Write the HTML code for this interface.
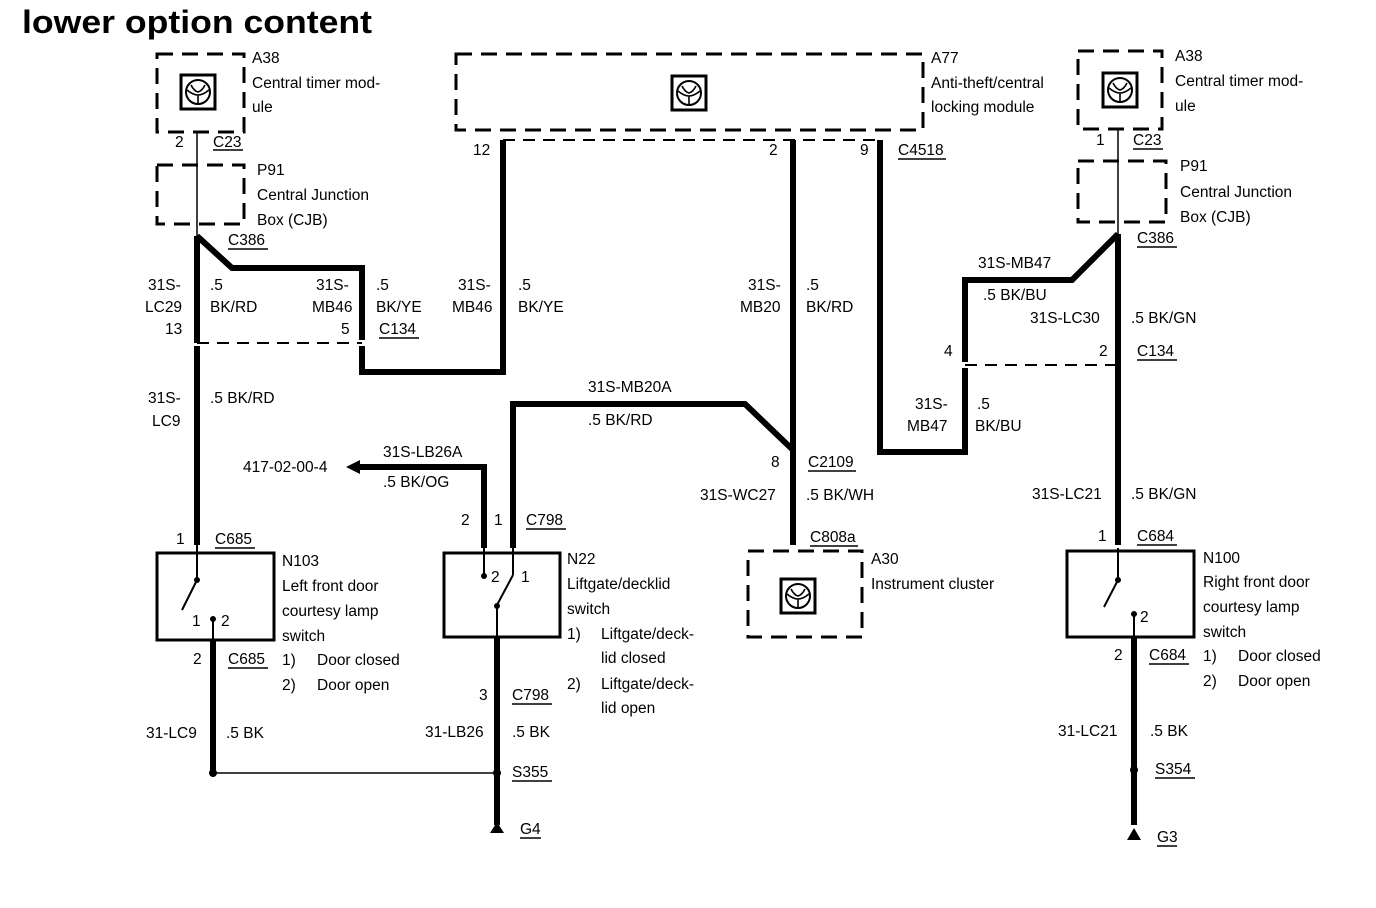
<!DOCTYPE html>
<html><head><meta charset="utf-8"><style>
html,body{margin:0;padding:0;background:#fff;width:1376px;height:908px;overflow:hidden}
svg{display:block}
text{font-family:"Liberation Sans",sans-serif;font-size:15.5px;fill:#000}
</style></head><body>
<svg width="1376" height="908" viewBox="0 0 1376 908" xmlns="http://www.w3.org/2000/svg">
<defs>
<g id="ic">
<rect x="-17" y="-17" width="34" height="34" fill="none" stroke="#000" stroke-width="3"/>
<circle cx="0" cy="0" r="12" fill="none" stroke="#000" stroke-width="2"/>
<path d="M-11,-2 Q-5,3 0,3 Q5,3 11,-2 M0,3 V12 M-7,-7 Q-4,-1 0,0 Q4,-1 7,-7" fill="none" stroke="#000" stroke-width="1.6"/>
</g>
</defs>
<text x="22" y="33" style="font-size:32px;font-weight:bold" textLength="350" lengthAdjust="spacingAndGlyphs">lower option content</text>

<g fill="none" stroke="#000" stroke-width="3" stroke-dasharray="16,9">
<rect x="157" y="54" width="87" height="78"/>
<rect x="157" y="165" width="87" height="59"/>
<rect x="456" y="54" width="467" height="76"/>
<rect x="1078" y="51" width="84" height="78"/>
<rect x="1078" y="161" width="88" height="61"/>
<rect x="748" y="551" width="114" height="86"/>
</g>
<g fill="none" stroke="#000" stroke-width="2" stroke-dasharray="12,8">
<line x1="197" y1="343" x2="362" y2="343"/>
<line x1="503" y1="140" x2="880" y2="140"/>
<line x1="965" y1="365" x2="1118" y2="365"/>
</g>
<use href="#ic" x="198" y="92"/>
<use href="#ic" x="689" y="93"/>
<use href="#ic" x="1120" y="90"/>
<use href="#ic" x="798" y="596"/>

<g fill="none" stroke="#000" stroke-width="1.5">
<line x1="197" y1="132" x2="197" y2="236"/>
<line x1="1118" y1="130" x2="1118" y2="234"/>
<line x1="213" y1="773" x2="497" y2="773"/>
</g>
<g fill="none" stroke="#000" stroke-width="6" stroke-linejoin="miter">
<polyline points="197,236 197,343"/>
<polyline points="197,236 232,268 362,268 362,340"/>
<polyline points="362,346 362,372 503,372 503,140"/>
<line x1="197" y1="346" x2="197" y2="545"/>
<line x1="793" y1="140" x2="793" y2="545"/>
<polyline points="880,140 880,452 965,452 965,368"/>
<polyline points="965,362 965,280 1072,280 1118,234"/>
<line x1="1118" y1="234" x2="1118" y2="545"/>
<polyline points="352,467 484,467 484,548"/>
<polyline points="793,450 745,404 513,404 513,548"/>
<line x1="213" y1="640" x2="213" y2="773"/>
<line x1="497" y1="637" x2="497" y2="825"/>
<line x1="1134" y1="637" x2="1134" y2="825"/>
</g>
<path d="M346,467 L360,460 L360,474Z" fill="#000"/>
<path d="M490,833 L504,833 L497,822Z M1127,840 L1141,840 L1134,828Z" fill="#000"/>
<circle cx="213" cy="773" r="4" fill="#000"/>
<circle cx="497" cy="773" r="4" fill="#000"/>
<circle cx="1134" cy="770" r="4" fill="#000"/>

<g fill="none" stroke="#000" stroke-width="3">
<rect x="157" y="553" width="117" height="87"/>
<rect x="444" y="553" width="116" height="84"/>
<rect x="1067" y="551" width="127" height="86"/>
</g>
<g stroke="#000" stroke-width="2" fill="#000">
<line x1="197" y1="545" x2="197" y2="580"/><line x1="197" y1="580" x2="182" y2="610"/>
<line x1="213" y1="620" x2="213" y2="640"/><circle cx="213" cy="619" r="2"/><circle cx="197" cy="580" r="2"/>
<line x1="484" y1="548" x2="484" y2="575"/><circle cx="484" cy="576" r="2"/>
<line x1="513" y1="548" x2="513" y2="575"/><line x1="513" y1="575" x2="497" y2="605"/><circle cx="497" cy="606" r="2"/>
<line x1="497" y1="606" x2="497" y2="637"/>
<line x1="1118" y1="548" x2="1118" y2="580"/><line x1="1118" y1="580" x2="1104" y2="607"/><circle cx="1118" cy="580" r="2"/>
<line x1="1134" y1="615" x2="1134" y2="637"/><circle cx="1134" cy="614" r="2"/>
</g>

<g>
<text x="252" y="63">A38</text><text x="252" y="88">Central timer mod-</text><text x="252" y="112">ule</text>
<text x="175" y="147">2</text><text x="213" y="147">C23</text>
<text x="257" y="175">P91</text><text x="257" y="200">Central Junction</text><text x="257" y="225">Box (CJB)</text>
<text x="228" y="245">C386</text>
<text x="148" y="290">31S-</text><text x="145" y="312">LC29</text><text x="165" y="334">13</text>
<text x="210" y="290">.5</text><text x="210" y="312">BK/RD</text>
<text x="316" y="290">31S-</text><text x="312" y="312">MB46</text><text x="341" y="334">5</text>
<text x="376" y="290">.5</text><text x="376" y="312">BK/YE</text><text x="379" y="334">C134</text>
<text x="148" y="403">31S-</text><text x="152" y="426">LC9</text><text x="210" y="403">.5 BK/RD</text>
<text x="931" y="63">A77</text><text x="931" y="88">Anti-theft/central</text><text x="931" y="112">locking module</text>
<text x="473" y="155">12</text><text x="769" y="155">2</text><text x="860" y="155">9</text><text x="898" y="155">C4518</text>
<text x="458" y="290">31S-</text><text x="452" y="312">MB46</text><text x="518" y="290">.5</text><text x="518" y="312">BK/YE</text>
<text x="748" y="290">31S-</text><text x="740" y="312">MB20</text><text x="806" y="290">.5</text><text x="806" y="312">BK/RD</text>
<text x="588" y="392">31S-MB20A</text><text x="588" y="425">.5 BK/RD</text>
<text x="243" y="472">417-02-00-4</text><text x="383" y="457">31S-LB26A</text><text x="383" y="487">.5 BK/OG</text>
<text x="461" y="525">2</text><text x="494" y="525">1</text><text x="526" y="525">C798</text>
<text x="771" y="467">8</text><text x="808" y="467">C2109</text>
<text x="700" y="500">31S-WC27</text><text x="806" y="500">.5 BK/WH</text>
<text x="810" y="542">C808a</text>
<text x="871" y="564">A30</text><text x="871" y="589">Instrument cluster</text>
<text x="978" y="268">31S-MB47</text><text x="983" y="300">.5 BK/BU</text>
<text x="1030" y="323">31S-LC30</text><text x="1131" y="323">.5 BK/GN</text>
<text x="944" y="356">4</text><text x="1099" y="356">2</text><text x="1137" y="356">C134</text>
<text x="915" y="409">31S-</text><text x="907" y="431">MB47</text><text x="977" y="409">.5</text><text x="975" y="431">BK/BU</text>
<text x="1175" y="61">A38</text><text x="1175" y="86">Central timer mod-</text><text x="1175" y="111">ule</text>
<text x="1096" y="145">1</text><text x="1133" y="145">C23</text>
<text x="1180" y="171">P91</text><text x="1180" y="197">Central Junction</text><text x="1180" y="222">Box (CJB)</text>
<text x="1137" y="243">C386</text>
<text x="1032" y="499">31S-LC21</text><text x="1131" y="499">.5 BK/GN</text>
<text x="1098" y="541">1</text><text x="1137" y="541">C684</text>
<text x="1203" y="563">N100</text><text x="1203" y="587">Right front door</text><text x="1203" y="612">courtesy lamp</text><text x="1203" y="637">switch</text>
<text x="1203" y="661">1)</text><text x="1238" y="661">Door closed</text><text x="1203" y="686">2)</text><text x="1238" y="686">Door open</text>
<text x="1140" y="622">2</text>
<text x="1114" y="660">2</text><text x="1149" y="660">C684</text>
<text x="1058" y="736">31-LC21</text><text x="1150" y="736">.5 BK</text>
<text x="1155" y="774">S354</text><text x="1157" y="842">G3</text>
<text x="176" y="544">1</text><text x="215" y="544">C685</text>
<text x="282" y="566">N103</text><text x="282" y="591">Left front door</text><text x="282" y="616">courtesy lamp</text><text x="282" y="641">switch</text>
<text x="192" y="626">1</text><text x="221" y="626">2</text>
<text x="193" y="664">2</text><text x="228" y="664">C685</text>
<text x="282" y="665">1)</text><text x="317" y="665">Door closed</text><text x="282" y="690">2)</text><text x="317" y="690">Door open</text>
<text x="146" y="738">31-LC9</text><text x="226" y="738">.5 BK</text>
<text x="491" y="582">2</text><text x="521" y="582">1</text>
<text x="567" y="564">N22</text><text x="567" y="589">Liftgate/decklid</text><text x="567" y="614">switch</text>
<text x="567" y="639">1)</text><text x="601" y="639">Liftgate/deck-</text><text x="601" y="663">lid closed</text>
<text x="567" y="689">2)</text><text x="601" y="689">Liftgate/deck-</text><text x="601" y="713">lid open</text>
<text x="479" y="700">3</text><text x="512" y="700">C798</text>
<text x="425" y="737">31-LB26</text><text x="512" y="737">.5 BK</text>
<text x="512" y="777">S355</text><text x="520" y="834">G4</text>
</g>
<g stroke="#000" stroke-width="1.5">
<line x1="213" y1="150" x2="243" y2="150"/><line x1="228" y1="249" x2="268" y2="249"/>
<line x1="379" y1="338" x2="419" y2="338"/><line x1="898" y1="159" x2="946" y2="159"/>
<line x1="526" y1="529" x2="566" y2="529"/><line x1="808" y1="471" x2="856" y2="471"/>
<line x1="810" y1="546" x2="858" y2="546"/><line x1="1137" y1="360" x2="1177" y2="360"/>
<line x1="1133" y1="149" x2="1163" y2="149"/><line x1="1137" y1="247" x2="1177" y2="247"/>
<line x1="1137" y1="545" x2="1177" y2="545"/><line x1="1149" y1="664" x2="1189" y2="664"/>
<line x1="1155" y1="778" x2="1195" y2="778"/><line x1="1157" y1="846" x2="1177" y2="846"/>
<line x1="215" y1="548" x2="255" y2="548"/><line x1="228" y1="668" x2="268" y2="668"/>
<line x1="512" y1="704" x2="552" y2="704"/><line x1="512" y1="781" x2="552" y2="781"/>
<line x1="520" y1="838" x2="541" y2="838"/>
</g>
</svg>
</body></html>
